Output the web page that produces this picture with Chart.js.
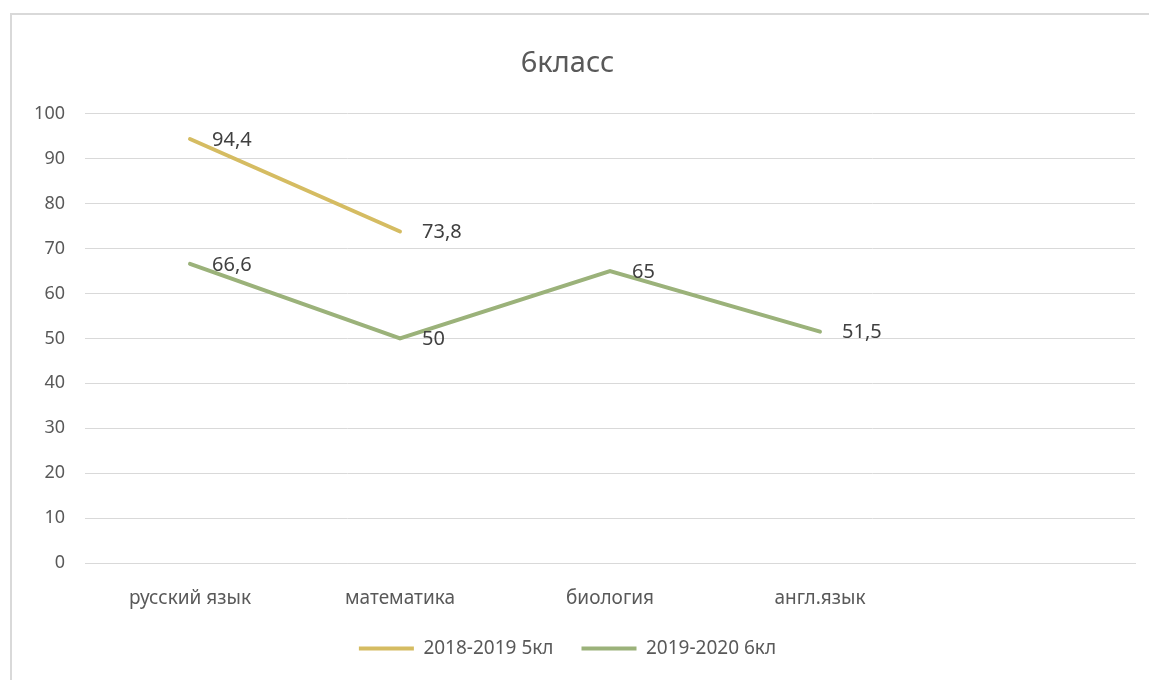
<!DOCTYPE html>
<html>
<head>
<meta charset="utf-8">
<script src="https://cdn.jsdelivr.net/npm/chart.js@4"></script>
<style>
  html, body { margin: 0; padding: 0; background: #fff; }
  #frame { position: absolute; left: 10px; top: 13px; width: 1139px; height: 667px;
           border-left: 2px solid #d9d9d9; border-top: 2px solid #d9d9d9; box-sizing: border-box; }
  #wrap { position: absolute; left: 0; top: 0; width: 1149px; height: 680px; }
</style>
</head>
<body>
<div id="frame"></div>
<div id="wrap"><canvas id="klassChart"></canvas></div>
<script>
/* data */
const subjects = ['русский язык', 'математика', 'биология', 'англ.язык', ''];
const values2019 = [94.4, 73.8, null, null, null];
const values2020 = [66.6, 50, 65, 51.5, null];
const seriesNames = ['2018-2019 5кл', '2019-2020 6кл'];

const fontFamily = '"Noto Sans", "Liberation Sans", sans-serif';

/* value labels to the right of each point */
const pointLabels = {
  id: 'pointLabels',
  afterDatasetsDraw(chart) {
    const ctx = chart.ctx;
    ctx.save();
    ctx.font = '20px ' + fontFamily;
    ctx.fillStyle = '#404040';
    ctx.textAlign = 'left';
    ctx.textBaseline = 'middle';
    chart.data.datasets.forEach((ds, i) => {
      chart.getDatasetMeta(i).data.forEach((pt, j) => {
        const v = ds.data[j];
        if (v == null) return;
        ctx.fillText(String(v).replace('.', ','), pt.x + 22, pt.y + 1);
      });
    });
    ctx.restore();
  }
};

const data = {
  labels: subjects,
  datasets: [{
    label: seriesNames[0],
    data: values2019,
    borderColor: '#D5BC62',
    backgroundColor: '#D5BC62',
    borderWidth: 4,
    pointRadius: 0,
    borderCapStyle: 'round',
    tension: 0
  }, {
    label: seriesNames[1],
    data: values2020,
    borderColor: '#9BB27A',
    backgroundColor: '#9BB27A',
    borderWidth: 4,
    pointRadius: 0,
    borderCapStyle: 'round',
    tension: 0
  }]
};

const config = {
  type: 'line',
  data: data,
  plugins: [pointLabels],
  options: {
    responsive: false,
    animation: false,
    layout: { padding: { top: 13, right: 14, bottom: 12, left: 0 } },
    plugins: {
      title: {
        display: true,
        text: '6класс',
        color: '#595959',
        font: { family: fontFamily, size: 29, weight: 'normal' },
        padding: { top: 33, bottom: 33 }
      },
      legend: {
        position: 'bottom',
        labels: {
          color: '#595959',
          font: { family: fontFamily, size: 19 },
          usePointStyle: true,
          pointStyleWidth: 55,
          pointStyle: 'line',
          padding: 28
        }
      },
      tooltip: { enabled: false }
    },
    scales: {
      x: {
        offset: true,
        afterFit(scale) { scale.height = 48; },
        grid: { display: false, drawTicks: false },
        border: { color: '#d9d9d9' },
        ticks: { color: '#595959', font: { family: fontFamily, size: 19 }, padding: 24, maxRotation: 0 }
      },
      y: {
        min: 0,
        max: 100,
        afterFit(scale) { scale.width = 85; },
        grid: { color: '#d9d9d9', drawTicks: false },
        border: { display: false },
        ticks: { stepSize: 10, color: '#595959', font: { family: fontFamily, size: 18 }, padding: 20 }
      }
    }
  }
};

const canvas = document.getElementById('klassChart');
canvas.width = 1149;
canvas.height = 680;
var myChart = new Chart(canvas, config);
</script>
</body>
</html>
